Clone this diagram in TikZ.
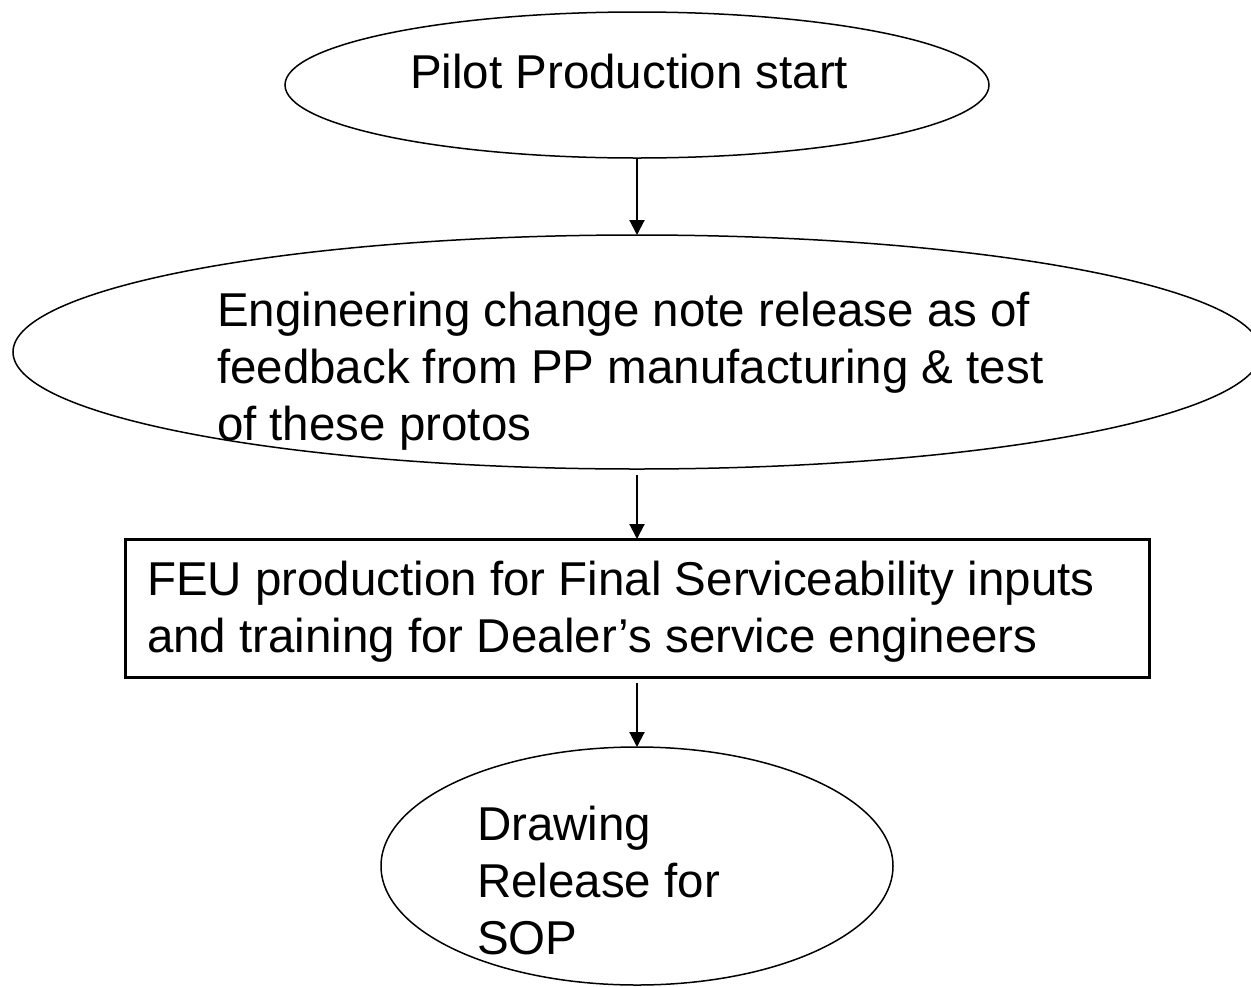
\documentclass[tikz,border=0pt]{standalone}
\usepackage{fontspec}
\setmainfont{Liberation Sans}
\usetikzlibrary{shapes.geometric,arrows.meta}

\begin{document}
\begin{tikzpicture}[x=1pt,y=-1pt,
  every node/.style={inner sep=0pt, outer sep=0pt},
  oval/.style={draw, ellipse, line width=1.5pt},
  stepbox/.style={draw, rectangle, line width=3pt},
  label text/.style={anchor=base west, font=\fontsize{47.5}{57}\selectfont},
  flow/.style={line width=2pt, -{Triangle[length=15pt,width=15pt]}}]

  % page
  \fill[white] (0,0) rectangle (1251,986);
  \useasboundingbox (0,0) rectangle (1251,986);

  % shapes
  \node[oval, minimum width=704pt, minimum height=146pt] (start) at (637,85) {};
  \node[oval, minimum width=1248pt, minimum height=234pt] (ecn) at (637,352) {};
  \node[stepbox, minimum width=1024pt, minimum height=138pt] (feu) at (637,608) {};
  \node[oval, minimum width=512pt, minimum height=238pt] (sop) at (637,866) {};

  % texts
  \node[label text] (startText) at (410,88) {Pilot Production start};
  \node[label text] (ecnText) at (217,326)
    {\begin{tabular}[t]{@{}l@{}}Engineering change note release as of\\
     feedback from PP manufacturing \& test\\
     of these protos\end{tabular}};
  \node[label text] (feuText) at (147,595)
    {\begin{tabular}[t]{@{}l@{}}FEU production for Final Serviceability inputs\\
     and training for Dealer’s service engineers\end{tabular}};
  \node[label text] (sopText) at (477,840)
    {\begin{tabular}[t]{@{}l@{}}Drawing\\Release for\\SOP\end{tabular}};

  % connectors
  \draw[flow] (start.south) -- (ecn.north);
  \draw[flow, shorten <=6pt] (ecn.south) -- (feu.north);
  \draw[flow, shorten <=6pt] (feu.south) -- (sop.north);
\end{tikzpicture}
\end{document}
